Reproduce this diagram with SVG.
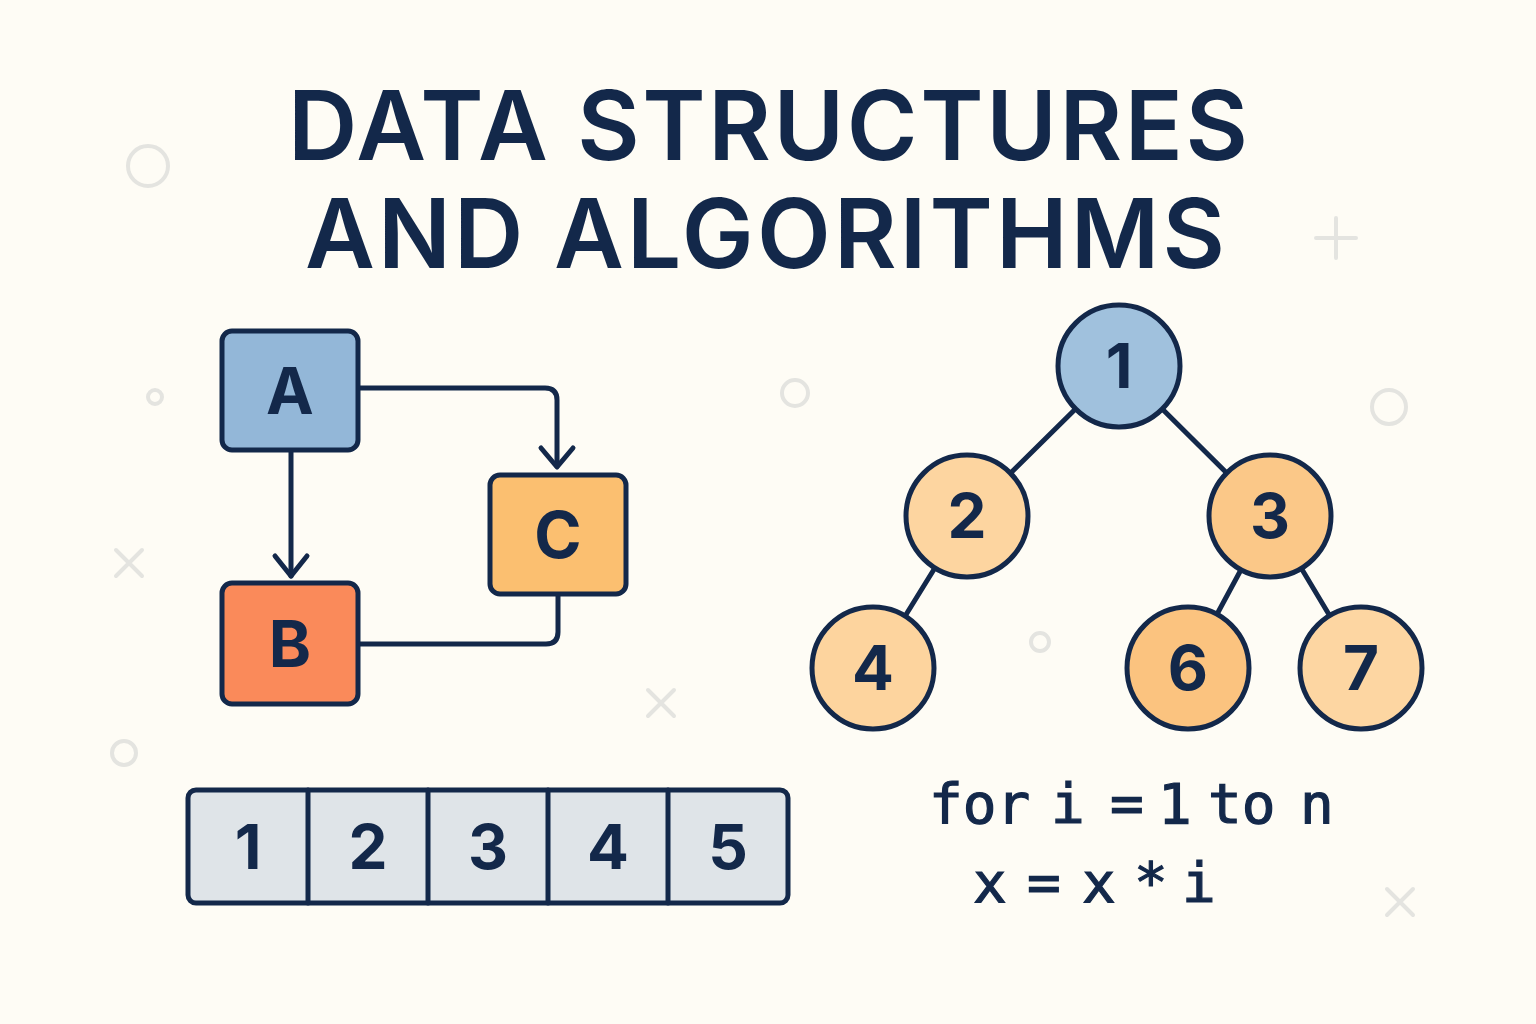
<svg xmlns="http://www.w3.org/2000/svg" width="1536" height="1024" viewBox="0 0 1536 1024">
<style>
.bg{fill:#fefcf5}
.title{font-family:Inter,"Open Sans","DejaVu Sans",sans-serif;font-weight:600;font-size:96px;fill:#13284a}
.box{stroke:#13284a;stroke-width:5}
.lbl{font-family:Inter,"Open Sans","DejaVu Sans",sans-serif;font-weight:700;font-size:64px;fill:#13284a;text-anchor:middle}
.num{font-family:Inter,"Open Sans","DejaVu Sans",sans-serif;font-weight:700;font-size:62px;fill:#13284a;text-anchor:middle}
.edge{fill:none;stroke:#13284a;stroke-width:5;stroke-linecap:round;stroke-linejoin:round}
.deco{fill:none;stroke:#e4e4e0;stroke-width:4;stroke-linecap:round}
.code{font-family:"DejaVu Sans Mono","Liberation Mono",monospace;font-weight:400;font-size:56px;fill:#13284a;stroke:#13284a;stroke-width:1.2}
.cell{fill:#dfe4e8;stroke:#13284a;stroke-width:5}
</style>
<rect class="bg" x="0" y="0" width="1536" height="1024"/>

<g id="decorations">
<circle class="deco" cx="148" cy="166" r="20"/>
<circle class="deco" cx="155" cy="397" r="7"/>
<circle class="deco" cx="795" cy="393" r="13"/>
<circle class="deco" cx="1389" cy="407" r="17"/>
<circle class="deco" cx="124" cy="753" r="12"/>
<circle class="deco" cx="1040" cy="642" r="9"/>
<path class="deco" d="M1316 238 H1356 M1336 218 V258"/>
<path class="deco" d="M116 550 L142 576 M142 550 L116 576"/>
<path class="deco" d="M648 690 L674 716 M674 690 L648 716"/>
<path class="deco" d="M1387 889 L1413 915 M1413 889 L1387 915"/>
</g>

<g id="title">
<text class="title" x="288" y="160" textLength="960" lengthAdjust="spacing">DATA STRUCTURES</text>
<text class="title" x="305" y="268" textLength="920" lengthAdjust="spacing">AND ALGORITHMS</text>
</g>

<g id="connectors">
<path class="edge" d="M358 388 H545 Q557 388 557 400 V466"/>
<path class="edge" d="M291 450 V576"/>
<path class="edge" d="M275 556 L291 576 L307 556"/>
<path class="edge" d="M541 448 L557 467 L573 448"/>
<path class="edge" d="M558 595 V632 Q558 644 546 644 H358"/>
<path class="edge" d="M1119 366 L967 516"/>
<path class="edge" d="M1119 366 L1270 516"/>
<path class="edge" d="M967 516 L873 668"/>
<path class="edge" d="M1270 516 L1188 668"/>
<path class="edge" d="M1270 516 L1361 668"/>
</g>

<g id="node-A">
<rect class="box" x="222" y="331" width="136" height="119" rx="10" fill="#93b7d8"/>
<text class="lbl" x="290" y="414">A</text>
</g>
<g id="node-B">
<rect class="box" x="222" y="583" width="136" height="121" rx="10" fill="#fa8a5a"/>
<text class="lbl" x="290" y="667">B</text>
</g>
<g id="node-C">
<rect class="box" x="490" y="475" width="136" height="119" rx="10" fill="#fbbf70"/>
<text class="lbl" x="558" y="558">C</text>
</g>

<g id="tree-1">
<circle class="box" cx="1119" cy="366" r="61" fill="#a0c1dd"/>
<text class="num" x="1119" y="388">1</text>
</g>
<g id="tree-2">
<circle class="box" cx="967" cy="516" r="61" fill="#fdd5a0"/>
<text class="num" x="967" y="538">2</text>
</g>
<g id="tree-3">
<circle class="box" cx="1270" cy="516" r="61" fill="#fbc888"/>
<text class="num" x="1270" y="538">3</text>
</g>
<g id="tree-4">
<circle class="box" cx="873" cy="668" r="61" fill="#fdd49e"/>
<text class="num" x="873" y="690">4</text>
</g>
<g id="tree-6">
<circle class="box" cx="1188" cy="668" r="61" fill="#fbc37f"/>
<text class="num" x="1188" y="690">6</text>
</g>
<g id="tree-7">
<circle class="box" cx="1361" cy="668" r="61" fill="#fdd6a2"/>
<text class="num" x="1361" y="690">7</text>
</g>

<g id="array">
<rect class="cell" x="188" y="790" width="600" height="113" rx="8"/>
<path class="edge" d="M308 790 V903 M428 790 V903 M548 790 V903 M668 790 V903"/>
<text class="num" x="248" y="869">1</text>
<text class="num" x="368" y="869">2</text>
<text class="num" x="488" y="869">3</text>
<text class="num" x="608" y="869">4</text>
<text class="num" x="728" y="869">5</text>
</g>

<g id="code">
<text class="code" y="823"><tspan x="929">for</tspan> <tspan x="1051">i</tspan> <tspan x="1110">=</tspan> <tspan x="1158">1</tspan> <tspan x="1208">to</tspan> <tspan x="1300">n</tspan></text>
<text class="code" y="902"><tspan x="973">x</tspan> <tspan x="1027">=</tspan> <tspan x="1082">x</tspan> <tspan x="1134">*</tspan> <tspan x="1182">i</tspan></text>
</g>
</svg>
